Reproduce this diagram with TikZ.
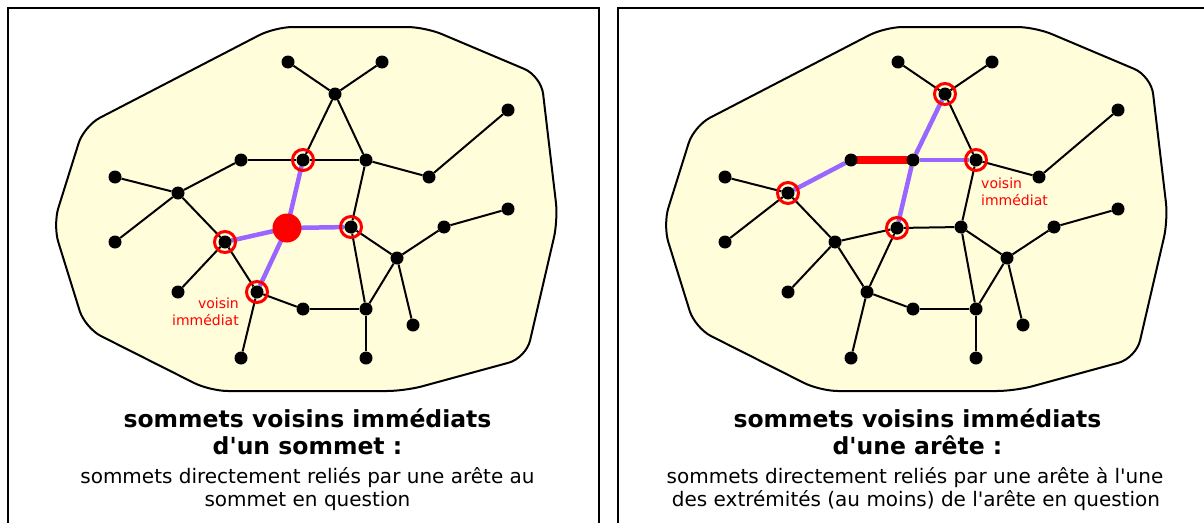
\documentclass[tikz,border=0pt]{standalone}
\usepackage{fontspec}
\setmainfont{DejaVu Sans}
\definecolor{blobyellow}{RGB}{255,253,218}
\definecolor{hlpurple}{RGB}{153,102,255}
\pgfdeclarelayer{blobs}
\pgfdeclarelayer{background}
\pgfsetlayers{blobs,background,main}
\tikzset{
  dot/.style={circle,fill=black,inner sep=0pt,minimum size=13pt},
  ring/.style={circle,draw=red,line width=3pt,inner sep=0pt,minimum size=21pt},
  bigdot/.style={circle,fill=red,inner sep=0pt,minimum size=29pt},
  edge/.style={line width=2pt,draw=black},
  hl/.style={line width=4.5pt,draw=hlpurple},
  redge/.style={line width=7.5pt,draw=red},
  blob/.style={draw=black,line width=2pt,fill=blobyellow,rounded corners=18pt},
  frame/.style={line width=2.2pt,draw=black},
  title/.style={font=\fontsize{23.5}{27}\selectfont\bfseries,anchor=base,inner sep=0pt},
  body/.style={font=\fontsize{20}{24}\selectfont,anchor=base,inner sep=0pt},
  note/.style={font=\fontsize{14}{17}\selectfont,text=red,inner sep=0pt},
}
\newcommand\blobshape{%
  \begin{pgfonlayer}{blobs}
    \draw[blob] (275,27) -- (425,27) -- (541,76) -- (558,220) -- (526,358) -- (405,391)
      -- (210,391) -- (85,328) -- (53,225) -- (84,126) -- cycle;
  \end{pgfonlayer}}
\newcommand\graphdots{%
  \node[dot] (n1) at (288,62) {};
  \node[dot] (n2) at (382,62) {};
  \node[dot] (n3) at (335,94) {};
  \node[dot] (n4) at (508,110) {};
  \node[dot] (n5) at (241,160) {};
  \node[dot] (n6) at (303,160) {};
  \node[dot] (n7) at (366,160) {};
  \node[dot] (n8) at (115,177) {};
  \node[dot] (n9) at (178,193) {};
  \node[dot] (n10) at (429,177) {};
  \node[dot] (n11) at (508,209) {};
  \node[dot] (n12) at (287,228) {};
  \node[dot] (n13) at (351,227) {};
  \node[dot] (n14) at (444,227) {};
  \node[dot] (n15) at (115,242) {};
  \node[dot] (n16) at (225,242) {};
  \node[dot] (n17) at (397,258) {};
  \node[dot] (n18) at (178,292) {};
  \node[dot] (n19) at (257,292) {};
  \node[dot] (n20) at (303,309) {};
  \node[dot] (n21) at (366,309) {};
  \node[dot] (n22) at (413,325) {};
  \node[dot] (n23) at (241,358) {};
  \node[dot] (n24) at (366,358) {};}
\newcommand\graphedges{%
  \foreach \a/\b in {1/3,2/3,3/6,3/7,6/7,5/6,5/9,8/9,15/9,9/16,16/12,12/6,12/13,12/19,
      16/18,16/19,19/23,19/20,20/21,7/10,10/4,7/13,13/21,13/17,17/14,14/11,17/21,17/22,21/24}
    {\draw[edge] (n\a) -- (n\b);}}
\begin{document}
\begin{tikzpicture}[x=1pt,y=-1pt]
\useasboundingbox (0,0) rectangle (1204,522);
\begin{pgfonlayer}{blobs}
  \fill[white] (0,0) rectangle (1204,522);
  \draw[frame] (8,530) -- (8,8) -- (599,8) -- (599,530);
  \draw[frame] (618,530) -- (618,8) -- (1215,8);
\end{pgfonlayer}
% ---------- left panel ----------
\begin{scope}[name prefix=L-]
  \blobshape
  \graphdots
  \begin{pgfonlayer}{background}
    \graphedges
    \draw[hl] (n12) -- (n16);
    \draw[hl] (n12) -- (n6);
    \draw[hl] (n12) -- (n13);
    \draw[hl] (n12) -- (n19);
  \end{pgfonlayer}
  \node[bigdot] (big) at (n12) {};
  \node[ring] (r1) at (n6) {};
  \node[ring] (r2) at (n13) {};
  \node[ring] (r3) at (n16) {};
  \node[ring] (r4) at (n19) {};
  \node[note,align=right,anchor=north east] (lab) at (239,297.3) {voisin\\immédiat};
  \node[title] (t1) at (307.5,427) {sommets voisins immédiats};
  \node[title] (t2) at (307.5,454) {d\textquotesingle un sommet :};
  \node[body] (b1) at (307.5,483) {sommets directement reliés par une arête au};
  \node[body] (b2) at (307.5,506) {sommet en question};
\end{scope}
% ---------- right panel ----------
\begin{scope}[xshift=610pt,name prefix=R-]
  \blobshape
  \graphdots
  \begin{pgfonlayer}{background}
    \graphedges
    \draw[hl] (n5) -- (n9);
    \draw[hl] (n6) -- (n3);
    \draw[hl] (n6) -- (n7);
    \draw[hl] (n6) -- (n12);
    \draw[redge] (n5.center) -- (n6.center);
  \end{pgfonlayer}
  \node[ring] (r1) at (n9) {};
  \node[ring] (r2) at (n3) {};
  \node[ring] (r3) at (n7) {};
  \node[ring] (r4) at (n12) {};
  \node[note,align=left,anchor=north west] (lab) at (371,177.3) {voisin\\immédiat};
  \node[title] (t1) at (307.5,427) {sommets voisins immédiats};
  \node[title] (t2) at (307.5,454) {d\textquotesingle une arête :};
  \node[body] (b1) at (305,483) {sommets directement reliés par une arête à l\textquotesingle une};
  \node[body] (b2) at (306,506) {des extrémités (au moins) de l\textquotesingle arête en question};
\end{scope}
\end{tikzpicture}
\end{document}
